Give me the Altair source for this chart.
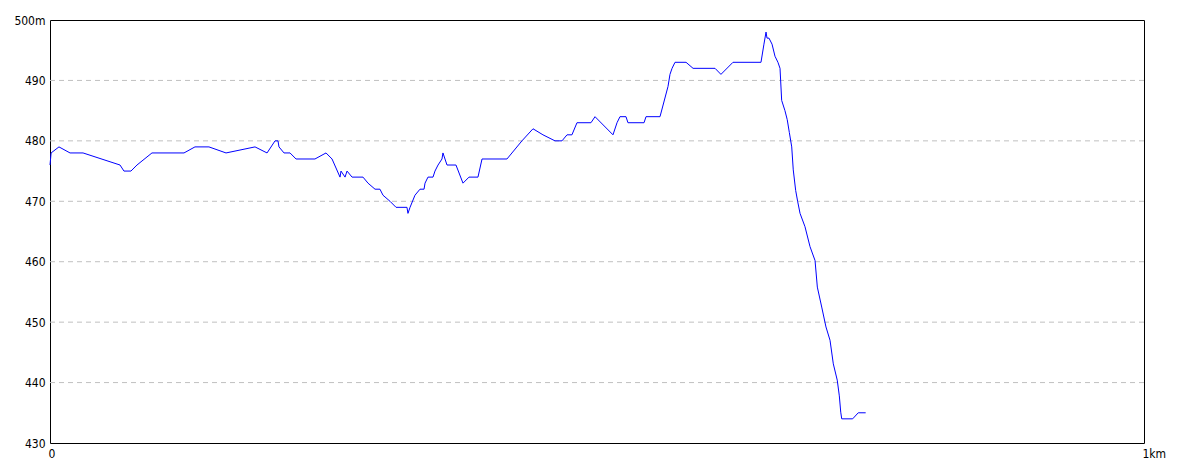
import altair as alt
import pandas as pd

distance_m = [0, 1, 8.2, 18.3, 30.2, 64.0, 67.6, 74.0, 79.5, 93.2, 122.5, 132.5, 145.3,
              160.9, 187.4, 198.4, 205.7, 208.4, 209.3, 213.9, 219.4, 224.9, 242.2, 252.3,
              257.8, 265.1, 266.0, 269.7, 271.5, 276.1, 286.1, 290.7, 297.1, 301.6, 304.4,
              310.8, 316.3, 326.3, 327.2, 329.1, 333.6, 338.2, 341.9, 342.8, 345.5, 350.1,
              351.9, 354.7, 358.3, 359.2, 362.9, 371.1, 377.5, 383.0, 391.2, 394.9, 417.7,
              431.4, 441.5, 450.6, 461.6, 468.0, 472.6, 477.1, 481.7, 494.5, 498.2, 514.6,
              518.3, 521.0, 526.5, 528.3, 543.0, 544.8, 557.6, 564.9, 566.7, 568.6, 571.3,
              581.4, 587.8, 607.9, 613.3, 624.3, 649.9, 652.6, 654.5, 655.4, 657.2, 660.0,
              662.7, 665.4, 667.3, 668.8, 671.8, 673.9, 675.8, 678.0, 679.4, 681.6, 683.4,
              685.6, 690.1, 694.7, 699.3, 701.4, 705.4, 709.3, 713.0, 716.0, 719.6, 721.5,
              722.8, 723.7, 733.7, 738.8, 745.6]
elevation_m = [476, 478, 479, 478, 478, 476, 475, 475, 476, 478, 478, 479, 479,
               478, 479, 478, 480, 480, 479, 478, 478, 477, 477, 478,
               477, 474, 475, 474, 475, 474, 474, 473, 472, 472, 471,
               470, 469, 469, 468, 469, 471, 472, 472, 473, 474, 474,
               475, 476, 477, 478, 476, 476, 473, 474, 474, 477, 477,
               480, 482, 481, 480, 480, 481, 481, 483, 483, 484, 481,
               483, 484, 484, 483, 483, 484, 484, 489, 491, 492, 493,
               493, 492, 492, 491, 493, 493, 496, 498, 497, 497, 496,
               494, 493, 492, 486.7, 485, 483.5, 481.4, 479, 475.2, 471.8, 470,
               468, 465.8, 462.5, 460.2, 455.8, 452.5, 449.2, 447, 443.1, 440.4, 437.8,
               435.1, 434, 434, 435, 435]

x_ticks = [0, 1000]
y_ticks = [430, 440, 450, 460, 470, 480, 490, 500]
grid_values = [440, 450, 460, 470, 480, 490]

df = pd.DataFrame({"d": distance_m, "e": elevation_m})
grid_df = pd.DataFrame({"e": grid_values})

FONT = "Liberation Sans Narrow, DejaVu Sans Condensed, Liberation Sans, sans-serif"

xscale = alt.Scale(domain=[0, 1000], nice=False, zero=False)
yscale = alt.Scale(domain=[430, 500], nice=False, zero=False)

yaxis = alt.Axis(values=y_ticks, title=None, grid=False, ticks=False, domain=False,
                 labelExpr="datum.value == 500 ? '500m' : datum.value",
                 labelPadding=5, labelFont=FONT, labelFontSize=12,
                 labelColor="#000000", labelFlush=False, labelOverlap=False)

line = alt.Chart(df).mark_line(color="#0000ff", strokeWidth=1, interpolate="linear").encode(
    x=alt.X("d:Q", scale=xscale,
            axis=alt.Axis(values=x_ticks, title=None, grid=False, ticks=False, domain=False,
                          labelExpr="datum.value == 0 ? '0' : '1km'",
                          labelAlign="left", labelOffset=-2, labelPadding=5,
                          labelFont=FONT, labelFontSize=12, labelColor="#000000",
                          labelFlush=False, labelOverlap=False)),
    y=alt.Y("e:Q", scale=yscale, axis=yaxis),
)

grid = alt.Chart(grid_df).mark_rule(color="#c0c0c0", strokeWidth=1, strokeDash=[5, 4]).encode(
    y=alt.Y("e:Q", scale=yscale, axis=yaxis)
)

chart = alt.layer(grid, line).properties(
    width=1094, height=423,
    autosize=alt.AutoSizeParams(type="none"),
    padding={"left": 42, "top": 12, "right": 30, "bottom": 20},
    background="#ffffff",
).configure_view(stroke="#000000", strokeWidth=1)

chart.save("out.html", embed_options={"renderer": "svg", "actions": False})
